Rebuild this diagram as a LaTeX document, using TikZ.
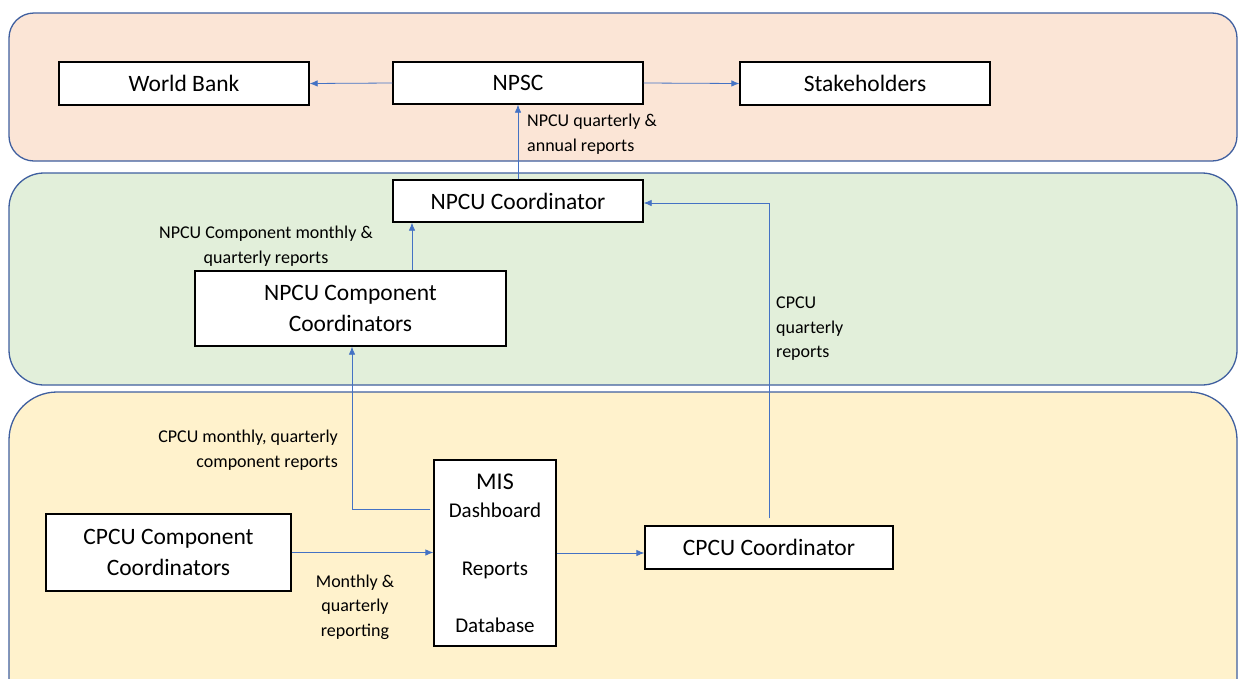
\documentclass[tikz,border=0pt]{standalone}
\usepackage{fontspec}
\setmainfont{Carlito}
\usetikzlibrary{arrows.meta}

\definecolor{bandline}{HTML}{3F5F9F}
\definecolor{peach}{HTML}{FBE5D6}
\definecolor{mint}{HTML}{E2EFDA}
\definecolor{cream}{HTML}{FFF2CC}
\definecolor{flow}{HTML}{4472C4}

\begin{document}
\begin{tikzpicture}[x=1pt,y=-1pt,
  band/.style={draw=bandline, line width=1.3pt},
  unit/.style={draw=black, fill=white, line width=1.3pt, rectangle,
    inner sep=0pt, align=center, font=\fontsize{23.5}{31.5}\selectfont},
  flowarrow/.style={draw=flow, line width=0.8pt, -{Latex[length=8pt,width=6.5pt]}},
  note/.style={inner sep=0pt, font=\fontsize{18}{24.5}\selectfont}
]
\useasboundingbox (0,0) rectangle (1238,678);
\clip (0,0) rectangle (1238,678);

% three organisational levels
\draw[band, fill=peach, rounded corners=25pt] (9,13) rectangle (1237,161);
\draw[band, fill=mint,  rounded corners=35pt] (9,173) rectangle (1237,385);
\draw[band, fill=cream, rounded corners=48pt] (9,392) rectangle (1237,740);

% units
\node[unit, minimum width=250pt, minimum height=43pt] (wb)    at (184,83.5)  {World Bank};
\node[unit, minimum width=250pt, minimum height=42pt] (npsc)  at (518,83)    {NPSC};
\node[unit, minimum width=250pt, minimum height=43pt] (stake) at (865,83.5)  {Stakeholders};
\node[unit, minimum width=250pt, minimum height=42pt] (npcuc) at (518,201)   {NPCU Coordinator};
\node[unit, minimum width=311pt, minimum height=75pt] (npcucc) at (350.5,308.5) {NPCU Component\\Coordinators};
\node[unit, minimum width=245pt, minimum height=77pt] (cpcucc) at (168.5,552.5) {CPCU Component\\Coordinators};
\node[unit, minimum width=248pt, minimum height=43pt] (cpcuc) at (769,547.5) {CPCU Coordinator};
\node[unit, minimum width=122pt, minimum height=186pt,
      font=\fontsize{21}{24}\selectfont] (mis) at (495,553)
  {{\fontsize{24}{24}\selectfont MIS}\\[4pt]Dashboard\\[34pt]Reports\\[33pt]Database};

% bend points of the routed connectors
\coordinate (upnpcu) at (412,0);
\coordinate (misbend) at (352,509);

% reporting flows
\draw[flowarrow] (npsc.west) -- (wb.east);
\draw[flowarrow] (npsc.east) -- (stake.west);
\draw[flowarrow] (npcuc.north) -- (npsc.south);
\draw[flowarrow] (npcucc.north -| upnpcu) -- (npcuc.south -| upnpcu);
\draw[flowarrow] ([xshift=-3pt]mis.west |- misbend) -- (misbend) -- (npcucc.south -| misbend);
\draw[flowarrow] (cpcucc.east) -- (cpcucc.east -| mis.west);
\draw[flowarrow] (mis.east) -- (mis.east -| cpcuc.west);
\draw[flowarrow, shorten <=7pt] (cpcuc.north) |- ([yshift=-2pt]npcuc.east);

% flow labels
\node[note, anchor=west, align=left] (lbnpsc) at (527,134) {NPCU quarterly \&\\annual reports};
\node[note, align=center] (lbcomp) at (266,246) {NPCU Component monthly \&\\quarterly reports};
\node[note, anchor=west, align=left] (lbcpcu) at (776,329) {CPCU\\quarterly\\reports};
\node[note, anchor=east, align=right] (lbmon) at (338,450) {CPCU monthly, quarterly\\component reports};
\node[note, align=center] (lbrep) at (355,607) {Monthly \&\\quarterly\\reporting};
\end{tikzpicture}
\end{document}
